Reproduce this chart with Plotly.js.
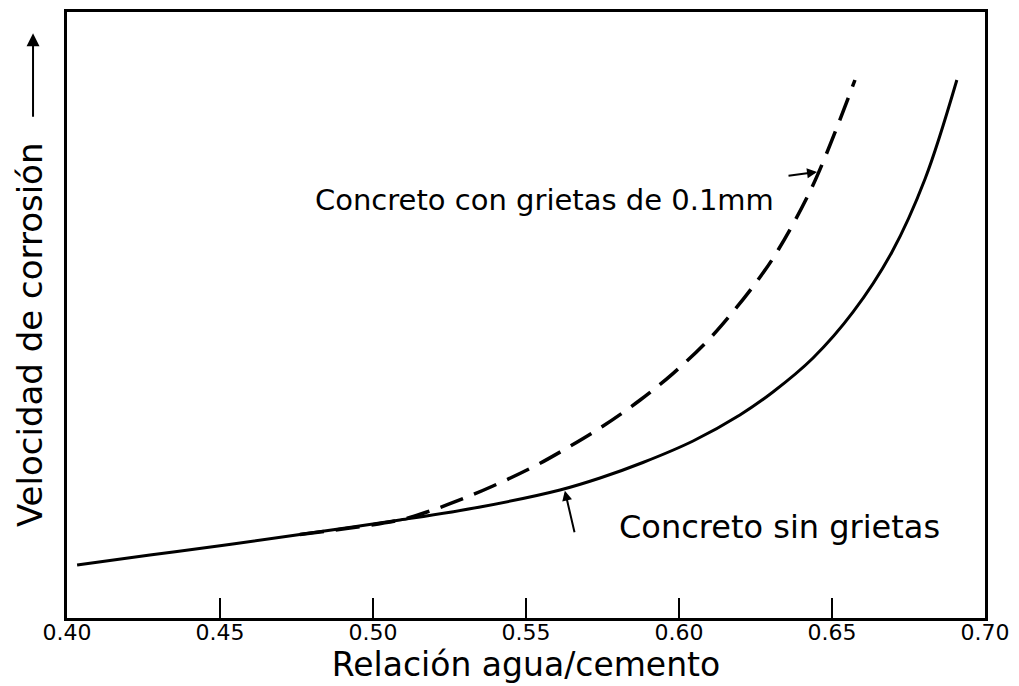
<!DOCTYPE html>
<html>
<head>
<meta charset="utf-8">
<script src="https://cdn.plot.ly/plotly-3.0.1.min.js"></script>
<style>
  body { margin: 0; background: #fff; }
  #chart { width: 1019px; height: 686px; }
</style>
</head>
<body>
<div id="chart"></div>
<script>
// relacion agua/cemento vs velocidad de corrosion (relative units, y has no scale)
let wcSolid = [0.4033, 0.4271, 0.4506, 0.4761, 0.5088, 0.5350, 0.5611, 0.5742, 0.5882, 0.6046, 0.6199, 0.6307, 0.6438, 0.6569, 0.6696, 0.6804, 0.6908];
let rateSolid = [0.875, 1.040, 1.196, 1.378, 1.617, 1.832, 2.112, 2.310, 2.566, 2.921, 3.350, 3.729, 4.290, 5.050, 6.040, 7.244, 8.878];

let wcDashed = [0.4761, 0.5088, 0.5176, 0.5275, 0.5392, 0.5523, 0.5634, 0.5752, 0.5873, 0.5980, 0.6092, 0.6176, 0.6265, 0.6324, 0.6438, 0.6575];
let rateDashed = [1.378, 1.617, 1.749, 1.931, 2.178, 2.492, 2.805, 3.168, 3.597, 4.033, 4.566, 5.050, 5.627, 6.073, 7.145, 8.878];

let xTicks = [0.40, 0.45, 0.50, 0.55, 0.60, 0.65, 0.70];
let xTickText = ['0.40', '0.45', '0.50', '0.55', '0.60', '0.65', '0.70'];

let font = 'DejaVu Sans, Liberation Sans, sans-serif';

let solidTrace = {
  x: wcSolid,
  y: rateSolid,
  mode: 'lines',
  line: { color: 'black', width: 3, shape: 'spline', smoothing: 1 },
  type: 'scatter'
};

let dashedTrace = {
  x: wcDashed,
  y: rateDashed,
  mode: 'lines',
  line: { color: 'black', width: 3.5, shape: 'spline', smoothing: 1, dash: '24px,12px' },
  type: 'scatter'
};

let layout = {
  width: 1019,
  height: 686,
  showlegend: false,
  paper_bgcolor: 'white',
  plot_bgcolor: 'white',
  margin: { l: 67, r: 34, t: 12, b: 68 },
  font: { family: font, color: 'black' },
  xaxis: {
    range: [0.40, 0.70],
    tickvals: xTicks,
    ticktext: xTickText,
    ticks: 'inside',
    ticklen: 20,
    tickwidth: 2,
    tickcolor: 'black',
    tickfont: { size: 22, family: font },
    ticklabelstandoff: -7,
    showgrid: false,
    zeroline: false,
    showline: true,
    mirror: true,
    linewidth: 3,
    linecolor: 'black',
    automargin: false,
    title: { text: 'Relación agua/cemento', font: { size: 33, family: font }, standoff: 5 }
  },
  yaxis: {
    range: [0, 10],
    showticklabels: false,
    ticks: '',
    showgrid: false,
    zeroline: false,
    showline: true,
    mirror: true,
    linewidth: 3,
    linecolor: 'black',
    automargin: false
  },
  annotations: [
    {
      // y axis title, drawn as text so it sits where the original has it
      x: -0.0403, y: 0.467, xref: 'paper', yref: 'paper',
      xanchor: 'center', yanchor: 'middle',
      text: 'Velocidad de corrosión',
      textangle: -90,
      showarrow: false,
      font: { size: 34, family: font }
    },
    {
      x: -0.037, y: 0.965, xref: 'paper', yref: 'paper',
      text: '', showarrow: true,
      ax: 0, ay: 85,
      arrowhead: 2, arrowsize: 1.3, arrowwidth: 2, arrowcolor: 'black'
    },
    {
      x: 0.5562, y: 6.90, xref: 'x', yref: 'y',
      text: 'Concreto con grietas de 0.1mm',
      showarrow: false,
      font: { size: 29, family: font }
    },
    {
      x: 0.6451, y: 7.36, xref: 'x', yref: 'y',
      text: '', showarrow: true,
      ax: -30, ay: 4,
      arrowhead: 2, arrowwidth: 2, arrowcolor: 'black'
    },
    {
      x: 0.6327, y: 1.50, xref: 'x', yref: 'y',
      text: 'Concreto sin grietas',
      showarrow: false,
      font: { size: 32, family: font }
    },
    {
      x: 0.5627, y: 2.10, xref: 'x', yref: 'y',
      text: '', showarrow: true,
      ax: 10, ay: 43,
      arrowhead: 2, arrowwidth: 2, arrowcolor: 'black'
    }
  ]
};

Plotly.newPlot('chart', [solidTrace, dashedTrace], layout, { displayModeBar: false, staticPlot: true });
</script>
</body>
</html>
